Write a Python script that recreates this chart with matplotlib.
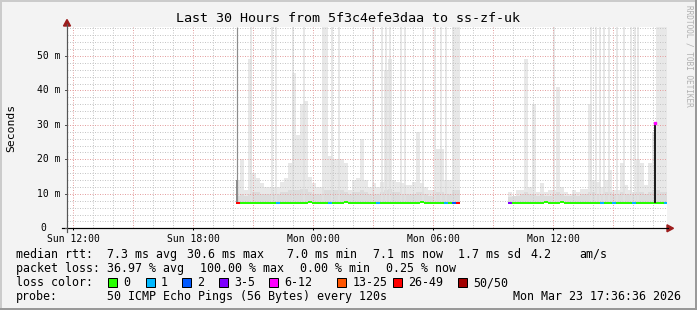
import matplotlib
matplotlib.use("Agg")
import matplotlib.pyplot as plt
from matplotlib.patches import Rectangle, Polygon
from matplotlib.lines import Line2D
import matplotlib.transforms as mtransforms

# ---------------- data ----------------
title = "Last 30 Hours from 5f3c4efe3daa to ss-zf-uk"
x_tick_hours = [0, 6, 12, 18, 24]          # hours since Sun 12:00
x_tick_labels = ["Sun 12:00", "Sun 18:00", "Mon 00:00", "Mon 06:00", "Mon 12:00"]
y_tick_values = [0, 10, 20, 30, 40, 50]     # milliseconds
y_tick_labels = ["0", "10 m", "20 m", "30 m", "40 m", "50 m"]
view_start_h = -0.32
view_hours = 30
y_max_ms = 58.4

bin_h = 0.2  # 12-minute bins
seg1_start_h = 8.13
seg1_hi = [14, 20, 11, 49, 16, 14.5, 13, 12, 12, 12, 12, 13.5, 14.5, 19, 45, 27,
           36, 37, 15, 13, 12, 12, 58.4, 21, 20, 20, 20, 19, 11, 14, 14.5, 26,
           14, 12, 13, 12, 13.5, 46, 49, 14, 13.5, 13, 12.5, 12.5, 13.5, 28,
           13, 12, 11, 11, 23, 23, 14, 14, 58.4, 58.4]
seg1_lo = [9.5, 10, 9.5, 10, 10.5, 10.5, 10, 10, 10, 10, 10, 10.5, 10.5, 11, 11, 11,
           11.5, 11.5, 10.5, 10, 10, 10, 11, 11, 11, 11, 11, 10.5, 10, 10.5, 10.5, 11,
           10.5, 10, 10, 10, 10.5, 11, 11.5, 10.5, 10.5, 10, 10, 10, 10, 10.5,
           10.5, 10, 9.5, 9.5, 10.5, 10.5, 10, 10, 11, 11]
seg1_med = [7.2] * 18 + [7.5] + [7.2] * 8 + [7.5] + [7.2] * 18 + [7.5] + [7.2] * 9
seg1_loss = [6, 0, 0, 0, 0, 0, 0, 0, 0, 0, 1, 0, 0, 0, 0, 0,
             0, 0, 0, 0, 0, 0, 0, 1, 0, 0, 0, 0, 0, 0, 0, 0,
             0, 0, 0, 1, 0, 0, 0, 0, 0, 0, 0, 0, 0, 0,
             0, 0, 0, 0, 0, 0, 1, 0, 2, 6]

seg2_start_h = 21.73
seg2_hi = [10.5, 9.5, 11, 11, 49, 12, 36, 10.5, 13, 10.5, 11, 11, 41, 12, 10.5, 10,
           11, 10.5, 11.5, 11.5, 36, 14, 13.5, 12, 14, 17, 11, 11, 19, 12.5, 11, 10.5,
           20, 19, 12.5, 19, 28, 58.4, 58.4, 58.4]
seg2_lo = [9, 9.5, 9.5, 10, 10.5, 10, 10, 9.5, 10, 9.5, 9.5, 10, 10.5, 10, 9.5, 9.5,
           10, 9.5, 10, 10, 10.5, 10.5, 10, 10, 10.5, 10.5, 10, 10, 10.5, 10, 10, 10,
           10.5, 10.5, 10, 10.5, 11, 11, 10.5, 10.5]
seg2_med = [7.2] * 9 + [7.5] + [7.2] * 3 + [7.5] + [7.2] * 26
seg2_loss = [3, 0, 0, 0, 0, 0, 0, 0, 0, 0, 0, 0, 0, 0, 0, 0,
             0, 0, 0, 0, 0, 0, 0, 1, 0, 0, 1, 0, 0, 0, 0, 1,
             0, 0, 0, 0, 0, 0, 0, 1]

# thin smoke lines that run off the top of the chart (hours)
spike_hours = [8.89, 9.94, 10.14, 10.99, 11.54, 12.49, 12.94, 13.29, 14.99, 15.41,
               15.64, 15.84, 16.36, 16.59, 17.49, 18.09, 18.39, 18.61,
               24.04, 25.89, 26.14, 26.34, 26.54, 26.79, 27.19, 27.54, 27.89, 28.09, 28.24]
first_sample_h = 8.13
first_sample_dark_ms = 14
peak_median_h = 29.1
peak_median_ms = 30.6
base_median_ms = 7.2

loss_labels = ["0", "1", "2", "3-5", "6-12", "13-25", "26-49", "50/50"]
loss_colors = ["#26ff00", "#00b8ff", "#0059ff", "#7e00ff", "#ff00ff", "#ff5500", "#ff0000", "#a10000"]

stats_rtt = ["7.3 ms avg", "30.6 ms max", "7.0 ms min", "7.1 ms now", "1.7 ms sd", "4.2", "am/s"]
stats_loss = ["36.97 % avg", "100.00 % max", "0.00 % min", "0.25 % now"]
probe_text = "50 ICMP Echo Pings (56 Bytes) every 120s"
timestamp = "Mon Mar 23 17:36:36 2026"

# ---------------- layout ----------------
W, H = 697, 310
MONO = "DejaVu Sans Mono"
fig = plt.figure(figsize=(W / 100, H / 100), dpi=100)
fig.patch.set_facecolor("#f3f3f3")

def fx(px):
    return px / W

def fy(py):
    return 1 - py / H

PX = 0.72  # one pixel in points

# frame shading
fig.add_artist(Line2D([0, 1], [fy(0.5), fy(0.5)], color="#cbcbcb", lw=2 * PX, transform=fig.transFigure))
fig.add_artist(Line2D([fx(0.5), fx(0.5)], [0, 1], color="#cbcbcb", lw=2 * PX, transform=fig.transFigure))
fig.add_artist(Line2D([0, 1], [fy(H - 1), fy(H - 1)], color="#999999", lw=2 * PX, transform=fig.transFigure))
fig.add_artist(Line2D([fx(W - 1), fx(W - 1)], [0, 1], color="#999999", lw=2 * PX, transform=fig.transFigure))

left_px, right_px, top_px, bot_px = 67, 667, 27, 228.3
ax = fig.add_axes([fx(left_px), fy(bot_px), (right_px - left_px) / W, (bot_px - top_px) / H])
ax.set_facecolor("white")
ax.set_xlim(view_start_h, view_start_h + view_hours)
ax.set_ylim(0, y_max_ms)
for s in ax.spines.values():
    s.set_visible(False)

# grid (light dotted lines)
MINOR = "#c6c6c6"
MAJOR = "#e5a0a0"
for h in range(0, 30):
    ax.axvline(h, color=MAJOR if h % 3 == 0 else MINOR, lw=PX, ls=(0, (1, 1.5)), zorder=2)
for v in range(2, 59, 2):
    ax.axhline(v, color=MAJOR if v % 10 == 0 else MINOR, lw=PX, ls=(0, (1, 1.5)), zorder=2)

# smoke
def draw_segment(start, hi, lo, med, loss):
    for i in range(len(hi)):
        t = start + i * bin_h
        ax.bar(t, hi[i] - med[i], bottom=med[i], width=bin_h, align="edge",
               color="#e8e8e8", linewidth=0, zorder=1)
        ax.bar(t, min(lo[i], hi[i]) - med[i], bottom=med[i], width=bin_h, align="edge",
               color="#dcdcdc", linewidth=0, zorder=1)
    for i in range(len(med)):
        t = start + i * bin_h
        ax.hlines(med[i], t, t + bin_h, colors=loss_colors[loss[i]], lw=2 * PX,
                  zorder=5, capstyle="butt")

draw_segment(seg1_start_h, seg1_hi, seg1_lo, seg1_med, seg1_loss)
draw_segment(seg2_start_h, seg2_hi, seg2_lo, seg2_med, seg2_loss)

ax.vlines(spike_hours, base_median_ms, y_max_ms, colors="#e0e0e0", lw=1.5 * PX, zorder=1.5)
ax.vlines([first_sample_h + 0.03], base_median_ms, y_max_ms, colors="#8c8c8c", lw=1.2 * PX, zorder=3)
ax.bar(first_sample_h, first_sample_dark_ms - base_median_ms, bottom=base_median_ms,
       width=0.1, align="edge", color="#8c8c8c", linewidth=0, zorder=3)
ax.vlines([peak_median_h], base_median_ms, peak_median_ms, colors="#1e1e1e", lw=2 * PX, zorder=6)
ax.plot([peak_median_h], [peak_median_ms], marker="s", ms=1.5, color=loss_colors[4], zorder=7)

# axes lines + arrows
fig.add_artist(Line2D([fx(62), fx(668)], [fy(bot_px), fy(bot_px)], color="#000000", lw=PX * 1.2,
                      transform=fig.transFigure))
fig.add_artist(Line2D([fx(left_px), fx(left_px)], [fy(232), fy(24)], color="#555555", lw=PX * 1.2,
                      transform=fig.transFigure))
fig.add_artist(Polygon([[fx(left_px - 3.5), fy(26)], [fx(left_px + 3.5), fy(26)], [fx(left_px), fy(19.5)]],
                       closed=True, color="#9c1c1c", transform=fig.transFigure))
fig.add_artist(Polygon([[fx(667), fy(bot_px - 3.5)], [fx(667), fy(bot_px + 3.5)], [fx(673.5), fy(bot_px)]],
                       closed=True, color="#9c1c1c", transform=fig.transFigure))

# x ticks
ax.set_xticks(x_tick_hours)
ax.set_xticklabels(x_tick_labels, fontsize=7, family=MONO)
ax.tick_params(axis="x", length=2 * PX, width=PX, pad=2.5, colors="#000000")
ax.set_yticks([])

# y tick labels (manual, like rrdtool)
blend = mtransforms.blended_transform_factory(fig.transFigure, ax.transData)
for v, lab in zip(y_tick_values, y_tick_labels):
    xpos = 60 if lab != "0" else 46.7
    fig.text(fx(xpos), v, lab, transform=blend, ha="right", va="center", fontsize=7, family=MONO)
    fig.add_artist(Line2D([fx(left_px - 2), fx(left_px)], [v, v], color="#555555", lw=PX, transform=blend))

# titles
fig.text(fx(348.5), fy(19), title, ha="center", va="center", fontsize=9.6, family=MONO)
fig.text(fx(11), fy(128), "Seconds", rotation=90, ha="center", va="center", fontsize=8.2, family=MONO)
fig.text(fx(688.5), fy(5), "RRDTOOL / TOBI OETIKER", rotation=270, ha="center", va="top",
         fontsize=5.6, family=MONO, color="#b0b0b0")

# legend rows
FS = 8.4
row_y = [254.3, 268.3, 282.5, 296.2]
fig.text(fx(16), fy(row_y[0]), "median rtt:", ha="left", va="center", fontsize=FS, family=MONO)
for txt, xp in zip(stats_rtt, [107.3, 187.5, 287.3, 372.7, 458.3, 530, 579.3]):
    fig.text(fx(xp), fy(row_y[0]), txt, ha="left", va="center", fontsize=FS, family=MONO)
fig.text(fx(16), fy(row_y[1]), "packet loss:", ha="left", va="center", fontsize=FS, family=MONO)
for txt, xp in zip(stats_loss, [107.3, 200, 300, 386]):
    fig.text(fx(xp), fy(row_y[1]), txt, ha="left", va="center", fontsize=FS, family=MONO)
fig.text(fx(16), fy(row_y[2]), "loss color:", ha="left", va="center", fontsize=FS, family=MONO)
swatch_x = [108.3, 145.7, 182.3, 219.3, 269.3, 337.3, 393.3, 458.3]
for lab, col, sx in zip(loss_labels, loss_colors, swatch_x):
    fig.add_artist(Rectangle((fx(sx), fy(row_y[2] + 4.5)), 9 / W, 9 / H, facecolor=col,
                             edgecolor="black", lw=PX, transform=fig.transFigure))
    fig.text(fx(sx + 15), fy(row_y[2]), lab, ha="left", va="center", fontsize=FS, family=MONO)
fig.text(fx(16), fy(row_y[3]), "probe:", ha="left", va="center", fontsize=FS, family=MONO)
fig.text(fx(107.3), fy(row_y[3]), probe_text, ha="left", va="center", fontsize=FS, family=MONO)
fig.text(fx(513.3), fy(row_y[3]), timestamp, ha="left", va="center", fontsize=FS, family=MONO)

fig.savefig("out.png", dpi=100, facecolor=fig.get_facecolor())
